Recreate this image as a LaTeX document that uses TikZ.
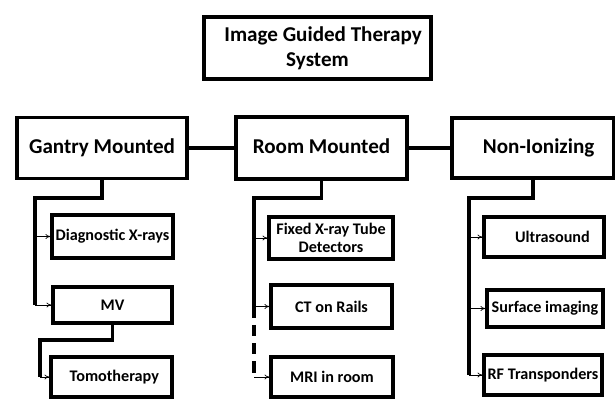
\documentclass[tikz,border=0pt]{standalone}
\usepackage{fontspec}
\setmainfont{Carlito}
\usetikzlibrary{arrows.meta,positioning}
\tikzset{>={To[length=3.5pt,width=3.5pt]}}
\tikzset{headbox/.style={draw, line width=2.3pt, align=center, font=\fontsize{15}{17.5}\selectfont\bfseries}}
\tikzset{itembox/.style={draw, line width=2.3pt, align=center, font=\fontsize{11.5}{13}\selectfont\bfseries}}
\tikzset{size/.style 2 args={minimum width=#1*0.025cm, minimum height=#2*0.025cm, inner sep=0pt}}
\tikzset{conn/.style={line width=2.3pt}}
\tikzset{tip/.style={->, line width=0.5pt}}

\begin{document}
\begin{tikzpicture}[x=0.025cm,y=-0.025cm]
      \useasboundingbox (0,0) rectangle (615,399);
      % top
      \node[headbox,size={227}{62}] (igts) at (317.5,48) {\hspace{8pt}Image Guided Therapy\\System};
      % three groups
      \node[headbox,size={170}{61}] (gantry) at (102,148) {Gantry Mounted};
      \node[headbox,size={171}{62}] (room) at (321.5,148) {\raisebox{3pt}{Room Mounted}};
      \node[headbox,size={162}{60}] (nonion) at (533,148) {\hspace{8pt}Non-Ionizing};
      \draw[conn] (gantry.east) -- (room.west);
      \draw[conn] (room.east) -- (nonion.west);
      % gantry mounted
      \node[itembox,size={121}{43}] (diag) at (112.5,236.5) {Diagnostic X-rays};
      \node[itembox,size={119}{36}] (mv) at (112.5,305) {MV};
      \node[itembox,size={121}{40}] (tomo) at (111.5,377) {\hspace{4pt}Tomotherapy};
      \coordinate (gk) at (35,198);
      \coordinate (mk) at (40,340);
      \draw[conn] (gantry.south) |- (gk) -- (gk |- mv.west);
      \draw[tip] (gk |- diag.west) -- (diag.west);
      \draw[tip] (gk |- mv.west) -- (mv.west);
      \draw[conn] (mv.south) |- (mk) -- (mk |- tomo.west);
      \draw[tip] (mk |- tomo.west) -- (tomo.west);
      % room mounted
      \node[itembox,size={124}{42}] (fixed) at (331,238) {Fixed X-ray Tube\\Detectors};
      \node[itembox,size={121}{43}] (ct) at (331.5,306.5) {CT on Rails};
      \node[itembox,size={122}{40}] (mri) at (332,377) {MRI in room};
      \coordinate (rk) at (254,198);
      \draw[conn] (room.south) |- (rk) -- (rk |- ct.west);
      \draw[conn,dashed,dash pattern=on 8pt off 5pt] (rk |- ct.west) -- (rk |- mri.west);
      \draw[tip] (rk |- fixed.west) -- (fixed.west);
      \draw[tip] (rk |- ct.west) -- (ct.west);
      \draw[tip] (rk |- mri.west) -- (mri.west);
      % non-ionizing
      \node[itembox,size={120}{40}] (ultra) at (544,237) {\hspace{12pt}Ultrasound};
      \node[itembox,size={116}{37}] (surf) at (545,308.5) {Surface imaging};
      \node[itembox,size={118}{40}] (rf) at (543,375) {RF Transponders};
      \coordinate (nk) at (469,198);
      \draw[conn] (nonion.south) |- (nk) -- (nk |- rf.west);
      \draw[tip] (nk |- ultra.west) -- (ultra.west);
      \draw[tip] (nk |- surf.west) -- (surf.west);
      \draw[tip] (nk |- rf.west) -- (rf.west);
\end{tikzpicture}
\end{document}
